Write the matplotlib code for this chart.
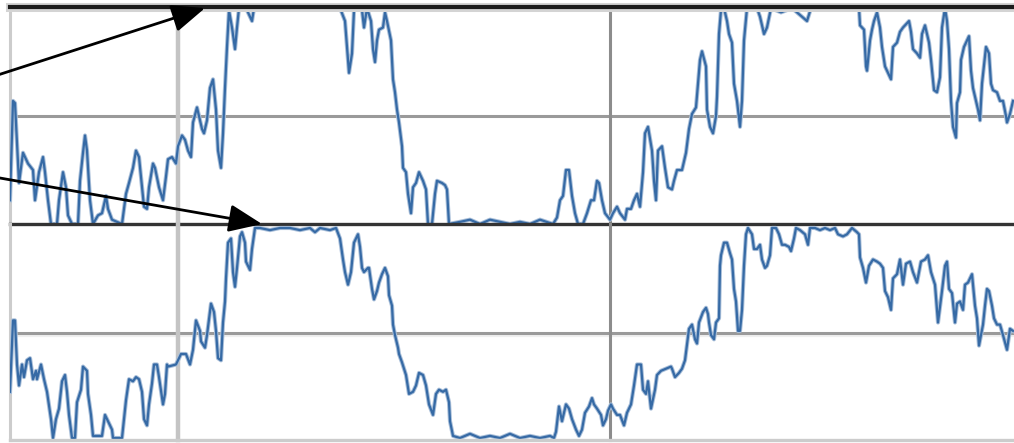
import numpy as np
import matplotlib
matplotlib.use("Agg")
import matplotlib.pyplot as plt

# fast oscillator (top panel): (bar, value)
fast_pts = [
    (0, 11), (3, 57), (5, 56), (7, 38), (9, 19), (13, 33), (15, 31), (18, 28), (23, 25), (25, 11),
    (29, 24), (33, 31), (35, 24), (38, 11), (41, 0), (47, 0), (49, 11), (53, 24), (56, 17), (58, 4),
    (62, 0), (68, 0), (70, 20), (73, 33), (75, 41), (77, 34), (80, 11), (83, 0), (88, 4), (92, 5),
    (96, 13), (98, 7), (102, 2), (112, 0), (116, 14), (119, 19), (123, 26), (126, 34), (129, 31),
    (132, 17), (134, 8), (137, 7), (139, 17), (143, 28), (145, 26), (149, 17), (153, 11), (156, 22),
    (158, 30), (162, 31), (166, 28), (168, 36), (172, 41), (175, 39), (178, 34), (181, 31), (183, 47),
    (187, 54), (189, 50), (192, 44), (194, 42), (197, 48), (200, 63), (203, 67), (206, 53), (208, 34),
    (211, 26), (213, 42), (215, 63), (217, 82), (219, 99), (222, 91), (225, 81), (227, 91), (229, 100),
    (237, 99), (242, 94), (244, 100), (260, 100), (280, 100), (300, 100), (320, 100), (330, 100),
    (335, 94), (337, 82), (339, 70), (342, 79), (344, 99), (348, 100), (352, 99), (354, 91), (357, 100),
    (361, 94), (363, 81), (365, 75), (367, 85), (369, 90), (373, 91), (375, 98), (377, 94), (381, 85),
    (383, 67), (385, 61), (387, 53), (389, 47), (392, 36), (393, 26), (396, 24), (398, 14), (401, 5),
    (403, 17), (406, 19), (409, 24), (413, 20), (416, 16), (418, 0), (422, 0), (425, 14), (427, 20),
    (432, 19), (435, 18), (437, 16), (439, 0), (450, 1), (460, 2), (470, 0), (480, 2), (490, 1),
    (500, 0), (510, 1), (520, 0), (530, 2), (543, 0), (547, 3), (550, 11), (553, 13), (556, 25),
    (559, 25), (562, 13), (565, 5), (568, 0), (573, 0), (577, 5), (581, 11), (584, 11), (587, 20),
    (589, 19), (592, 11), (595, 5), (600, 2), (603, 5), (607, 8), (610, 5), (615, 2), (617, 7),
    (621, 7), (624, 11), (627, 14), (630, 8), (633, 24), (635, 42), (638, 45), (642, 34), (644, 20),
    (646, 11), (648, 34), (652, 36), (655, 26), (658, 17), (662, 16), (664, 20), (667, 25), (672, 25),
    (676, 33), (679, 44), (682, 51), (686, 54), (688, 65), (690, 76), (692, 80), (696, 73), (697, 53),
    (700, 45), (703, 42), (706, 50), (707, 59), (709, 88), (711, 99), (714, 100), (717, 94), (719, 88),
    (722, 84), (724, 65), (727, 57), (730, 45), (732, 57), (734, 85), (737, 100), (747, 100), (750, 96),
    (754, 88), (757, 91), (761, 100), (771, 98), (782, 100), (797, 94), (801, 100), (820, 100),
    (835, 100), (849, 100), (850, 92), (854, 90), (856, 73), (857, 71), (860, 85), (862, 90), (864, 94),
    (867, 98), (870, 91), (872, 82), (875, 73), (878, 70), (881, 67), (883, 82), (887, 84), (890, 89),
    (893, 91), (897, 93), (899, 94), (901, 89), (903, 81), (907, 79), (910, 77), (912, 88), (915, 92),
    (917, 88), (919, 84), (921, 76), (924, 62), (927, 61), (930, 68), (932, 91), (935, 100), (937, 94),
    (939, 81), (941, 57), (943, 45), (946, 40), (947, 56), (950, 61), (951, 76), (954, 82), (957, 85),
    (959, 87), (961, 71), (963, 63), (966, 57), (968, 53), (970, 48), (972, 65), (976, 82), (979, 79),
    (981, 65), (983, 62), (987, 61), (990, 57), (993, 57), (996, 50), (997, 47), (1000, 51), (1003, 57),
]

# slow oscillator (bottom panel): (bar, value)
slow_pts = [
    (0, 22), (3, 56), (5, 56), (7, 35), (9, 25), (12, 35), (14, 29), (17, 37), (20, 38), (23, 28),
    (26, 32), (27, 28), (31, 35), (34, 28), (37, 22), (41, 9), (43, 0), (46, 9), (49, 14), (52, 27),
    (55, 30), (57, 22), (59, 11), (62, 0), (65, 0), (67, 17), (71, 23), (73, 34), (77, 32), (78, 21),
    (81, 11), (83, 1), (88, 1), (92, 1), (95, 11), (98, 8), (102, 4), (103, 0), (112, 0), (116, 18),
    (119, 28), (123, 27), (126, 29), (129, 28), (132, 22), (134, 9), (137, 6), (139, 16), (142, 26),
    (144, 35), (147, 35), (149, 29), (153, 16), (155, 21), (157, 35), (158, 34), (166, 35), (171, 40),
    (176, 40), (180, 35), (183, 42), (186, 56), (190, 51), (191, 46), (195, 43), (197, 49), (201, 64),
    (204, 60), (206, 51), (208, 38), (211, 37), (213, 55), (215, 65), (216, 76), (218, 93), (221, 95),
    (223, 79), (225, 72), (227, 81), (230, 96), (232, 98), (235, 93), (236, 84), (240, 80), (242, 90),
    (245, 100), (250, 100), (260, 99), (270, 100), (280, 100), (290, 99), (300, 100), (305, 98),
    (310, 100), (320, 99), (326, 100), (330, 95), (333, 85), (335, 79), (338, 73), (341, 79), (344, 93),
    (348, 97), (350, 91), (352, 81), (354, 79), (358, 81), (359, 81), (362, 71), (364, 66), (367, 70),
    (369, 74), (372, 78), (375, 81), (378, 77), (379, 68), (382, 63), (383, 54), (385, 49), (388, 43),
    (389, 40), (392, 36), (396, 30), (399, 21), (403, 22), (406, 25), (409, 31), (413, 30), (416, 25),
    (419, 16), (423, 11), (426, 21), (429, 23), (433, 22), (436, 23), (439, 17), (440, 8), (443, 1),
    (450, 0), (460, 2), (470, 0), (480, 1), (490, 0), (500, 2), (510, 0), (520, 1), (530, 0), (540, 1),
    (544, 0), (546, 3), (549, 15), (552, 8), (556, 16), (559, 14), (562, 9), (566, 4), (569, 1),
    (572, 4), (575, 12), (579, 15), (582, 19), (584, 16), (587, 14), (591, 11), (593, 6), (596, 9),
    (598, 13), (601, 16), (603, 14), (607, 11), (610, 11), (614, 6), (617, 12), (621, 16), (624, 25),
    (627, 35), (631, 35), (633, 23), (636, 21), (638, 27), (641, 14), (645, 23), (647, 30), (651, 32),
    (656, 33), (661, 34), (662, 33), (665, 29), (669, 31), (672, 33), (675, 37), (679, 52), (682, 54),
    (685, 47), (687, 45), (689, 55), (693, 60), (696, 62), (698, 59), (699, 55), (701, 49), (704, 47),
    (706, 55), (709, 57), (710, 82), (711, 87), (714, 93), (717, 93), (720, 88), (722, 85), (724, 71),
    (726, 65), (728, 51), (730, 51), (732, 61), (734, 82), (736, 97), (738, 100), (742, 97), (744, 90),
    (747, 90), (750, 92), (752, 85), (755, 81), (757, 82), (760, 87), (762, 100), (766, 100), (769, 97),
    (772, 92), (775, 92), (779, 91), (781, 89), (784, 95), (786, 100), (790, 99), (795, 97), (798, 92),
    (800, 100), (805, 100), (810, 99), (815, 100), (820, 99), (825, 100), (828, 97), (833, 96),
    (837, 97), (842, 100), (847, 98), (849, 97), (850, 86), (853, 81), (856, 74), (859, 82), (863, 85),
    (867, 84), (870, 83), (873, 81), (875, 70), (878, 67), (881, 61), (883, 76), (887, 78), (890, 85),
    (893, 73), (896, 83), (900, 84), (903, 79), (907, 74), (911, 84), (915, 85), (918, 87), (921, 79),
    (925, 73), (928, 55), (932, 70), (935, 82), (937, 84), (939, 71), (942, 69), (945, 55), (947, 64),
    (950, 65), (953, 61), (955, 73), (958, 74), (962, 78), (963, 73), (965, 63), (967, 57), (969, 44),
    (973, 54), (975, 63), (977, 71), (979, 70), (982, 63), (984, 57), (987, 54), (990, 54), (993, 49),
    (997, 42), (1000, 52), (1003, 51),
]

mid_level = 50
vlines = [0, 168, 600]          # bar positions of the vertical markers
vline_colors = ['#cccccc', '#c4c4c4', '#8c8c8c']
vline_widths = [2.2, 3.2, 2.2]

fast_t, fast_k = np.array(fast_pts, dtype=float).T
slow_t, slow_k = np.array(slow_pts, dtype=float).T

W, H = 1014, 443
fig = plt.figure(figsize=(W / 100, H / 100), dpi=100)
fig.patch.set_facecolor('white')
left = 10 / W
ax_top = fig.add_axes([left, (H - 224) / H, 1 - left, (224 - 7) / H])
ax_bot = fig.add_axes([left, (H - 440) / H, 1 - left, (440 - 224) / H])

ax_top.set_ylim(0, 100.5)
ax_bot.set_ylim(-0.95, 101.9)

line_col = '#366aa5'
halo_col = '#a9bfd9'
for ax, t, k in [(ax_top, fast_t, fast_k), (ax_bot, slow_t, slow_k)]:
    ax.set_xlim(0, 1004)
    ax.axis('off')
    # midline grid
    ax.axhline(mid_level, color='#9a9a9a', lw=2.2, zorder=1)
    for xv, c, w in zip(vlines, vline_colors, vline_widths):
        ax.axvline(xv, color=c, lw=w, zorder=1, clip_on=False)
    ax.plot(t, k, color=halo_col, lw=3.0, zorder=2)
    ax.plot(t, k, color=line_col, lw=1.6, zorder=3)

# light band under lower midline
ax_bot.axhline(mid_level - 1.6, color='#efefef', lw=1.6, zorder=0.5)

# panel borders
ax_top.axhline(100.5, color='#d4d4d4', lw=6.5, zorder=4, clip_on=False)
ax_top.axhline(100.5, color='#1c1c1c', lw=3.0, zorder=5, clip_on=False)
ax_top.axhline(0, color='#333333', lw=2.4, zorder=5, clip_on=False)
ax_bot.axhline(-0.95, color='#cccccc', lw=2.4, zorder=5, clip_on=False)

# arrows
arrow_kw = dict(arrowstyle='-|>,head_length=1.2,head_width=0.5', color='black',
                lw=2.0, shrinkA=0, shrinkB=0, mutation_scale=17)
ax_top.annotate('', xy=(195, 100), xytext=(-0.02, 0.675), textcoords='axes fraction',
                arrowprops=arrow_kw, annotation_clip=False, zorder=10)
ax_top.annotate('', xy=(252, 0), xytext=(-0.02, 0.22), textcoords='axes fraction',
                arrowprops=arrow_kw, annotation_clip=False, zorder=10)

fig.savefig('out.png', dpi=100, facecolor='white')
